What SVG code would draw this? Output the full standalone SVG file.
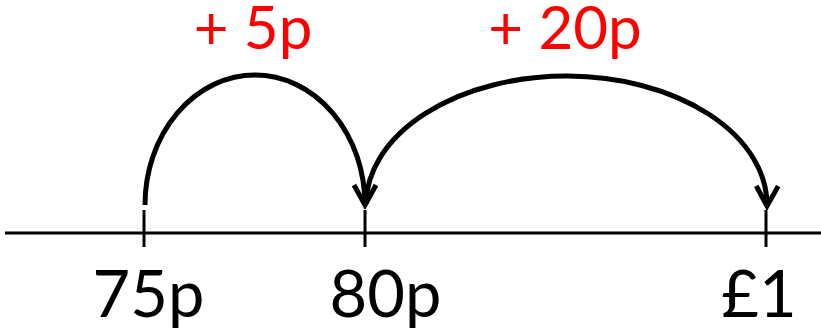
<svg xmlns="http://www.w3.org/2000/svg" width="821" height="330" viewBox="0 0 821 330">
<style>
.lbl{font-family:Lato,"Open Sans",sans-serif;font-size:65px;fill:#000;text-anchor:middle}
.jump{font-family:Lato,"Open Sans",sans-serif;font-size:60px;fill:#ff0000;text-anchor:middle}
.arc{fill:none;stroke:#000;stroke-width:5;marker-end:url(#ah)}
.axis{stroke:#000;stroke-width:3}
</style>
<defs>
<marker id="ah" markerUnits="userSpaceOnUse" viewBox="-26 -16 30 32" markerWidth="30" markerHeight="32" refX="0" refY="0" orient="auto">
<path d="M-20,-11 L0,0 L-20,11" fill="none" stroke="#000" stroke-width="5" stroke-linejoin="miter"/>
</marker>
</defs>
<g id="axis">
<line class="axis" x1="5" y1="233" x2="821" y2="233"/>
</g>
<g id="n75">
<line class="axis" x1="144" y1="210" x2="144" y2="247"/>
<text class="lbl" x="148.5" y="317">75p</text>
</g>
<g id="n80">
<line class="axis" x1="365" y1="210" x2="365" y2="247"/>
<text class="lbl" x="385.5" y="317">80p</text>
</g>
<g id="n100">
<line class="axis" x1="766" y1="210" x2="766" y2="247"/>
<text class="lbl" x="759" y="317">£1</text>
</g>
<g id="connectors">
<path class="arc" d="M145,205 A110,130 0 0 1 365,205"/>
<path class="arc" d="M366,204 A200.5,129 0 0 1 767,206"/>
<text class="jump" x="253" y="49">+ 5p</text>
<text class="jump" x="565" y="49">+ 20p</text>
</g>
</svg>
